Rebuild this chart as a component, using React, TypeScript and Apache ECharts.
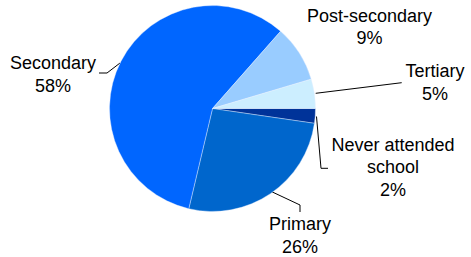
import React, { useEffect, useRef } from "react";
import * as echarts from "echarts";

const categories = ["Never attended school", "Primary", "Secondary", "Post-secondary", "Tertiary"];
const labelNames = ["Never attended\nschool", "Primary", "Secondary", "Post-secondary", "Tertiary"];
const values = [2.3, 26.4, 57.8, 8.9, 4.6];
const colors = ["#003399", "#0066cc", "#0066ff", "#99ccff", "#cceeff"];

// label layout (positions only)
const labelPos: [number, number][] = [
  [393, 167],
  [300, 235.5],
  [53, 74.5],
  [369.5, 27],
  [435, 82.5],
];
const linePts: (number[][] | null)[] = [
  [[316.5, 116.5], [321, 168.3], [328, 168.3]],
  [[271.7, 191.7], [300, 205], [300, 212]],
  [[120, 63], [107, 73], [99, 73]],
  null,
  [[315.7, 93.3], [401.7, 82.7], [401.7, 82.7]],
];

export default function App() {
  const ref = useRef<HTMLDivElement>(null);
  useEffect(() => {
    if (!ref.current) return;
    const chart = echarts.init(ref.current, null, { renderer: "svg" });
    chart.setOption({
      animation: false,
      backgroundColor: "#ffffff",
      series: [
        {
          type: "pie",
          center: [212.5, 108.5],
          radius: 103,
          startAngle: 0,
          clockwise: true,
          avoidLabelOverlap: false,
          itemStyle: { borderColor: "#e8f0ff", borderWidth: 0.4 },
          label: {
            show: true,
            position: "outside",
            color: "#000",
            fontFamily: "Liberation Sans, Arial, sans-serif",
            fontSize: 18,
            lineHeight: 22.5,
            align: "center",
            formatter: (p: any) => `${labelNames[p.dataIndex]}\n${Math.round(p.percent)}%`,
          },
          labelLine: { show: true, lineStyle: { color: "#000", width: 1 } },
          labelLayout: (params: any) => {
            const i = params.dataIndex;
            const res: any = {
              x: labelPos[i][0],
              y: labelPos[i][1],
              align: "center",
              verticalAlign: "middle",
            };
            if (linePts[i]) res.labelLinePoints = linePts[i];
            return res;
          },
          data: categories.map((c, i) => ({
            name: c,
            value: values[i],
            itemStyle: { color: colors[i] },
            labelLine: { show: linePts[i] !== null },
          })),
        },
      ],
    });
    return () => chart.dispose();
  }, []);
  return <div ref={ref} style={{ width: 471, height: 257, position: "absolute", left: 0, top: 0 }} />;
}
